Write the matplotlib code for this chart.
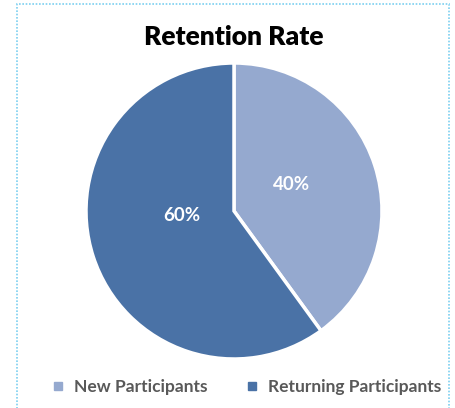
import matplotlib
matplotlib.use("Agg")
import matplotlib.pyplot as plt
from matplotlib.patches import Rectangle
from matplotlib.lines import Line2D

categories = ["New Participants", "Returning Participants"]
values = [40, 60]
colors = ["#95A9CF", "#4A72A6"]
title = "Retention Rate"

W, H = 456, 408
fig = plt.figure(figsize=(W / 100, H / 100), dpi=100)
plt.rcParams['font.family'] = ['Lato', 'DejaVu Sans']

# border
fig.patches.append(Rectangle((17 / W, -0.05), (449 - 17) / W, 1.05 - 4 / H,
                             transform=fig.transFigure, fill=False,
                             edgecolor="#7DCFF0", linestyle=(0, (1, 1)), linewidth=1.2))

cx, cy, r = 234, 211, 148
ax = fig.add_axes([(cx - r) / W, 1 - (cy + r) / H, 2 * r / W, 2 * r / H])
wedges, texts, autotexts = ax.pie(values, colors=colors, startangle=90, counterclock=False,
                                  autopct=lambda p: f"{p:.0f}%", pctdistance=0.42,
                                  wedgeprops=dict(edgecolor="white", linewidth=2.5),
                                  textprops=dict(color="white", fontsize=13.5, fontweight="bold"))
# Excel-like label placement
autotexts[0].set_position((0.39, 0.18))
autotexts[1].set_position((-0.35, -0.03))
ax.set_aspect("equal")
ax.set_xlim(-1, 1)
ax.set_ylim(-1, 1)
ax.axis("off")

fig.text(cx / W, 1 - 37 / H, title, ha="center", va="center",
         fontsize=19, fontweight="heavy", color="black")

handles = [Line2D([], [], marker="s", linestyle="none", markersize=6,
                  markerfacecolor=c, markeredgecolor=c) for c in colors]
fig.legend(handles, categories, loc="center", bbox_to_anchor=(246 / W, 1 - 387 / H),
           ncol=2, frameon=False, handlelength=0.8, handletextpad=0.5, columnspacing=2.2,
           prop=dict(size=12.5, weight="bold"), labelcolor="#595959")

fig.savefig("out.png", dpi=100)
